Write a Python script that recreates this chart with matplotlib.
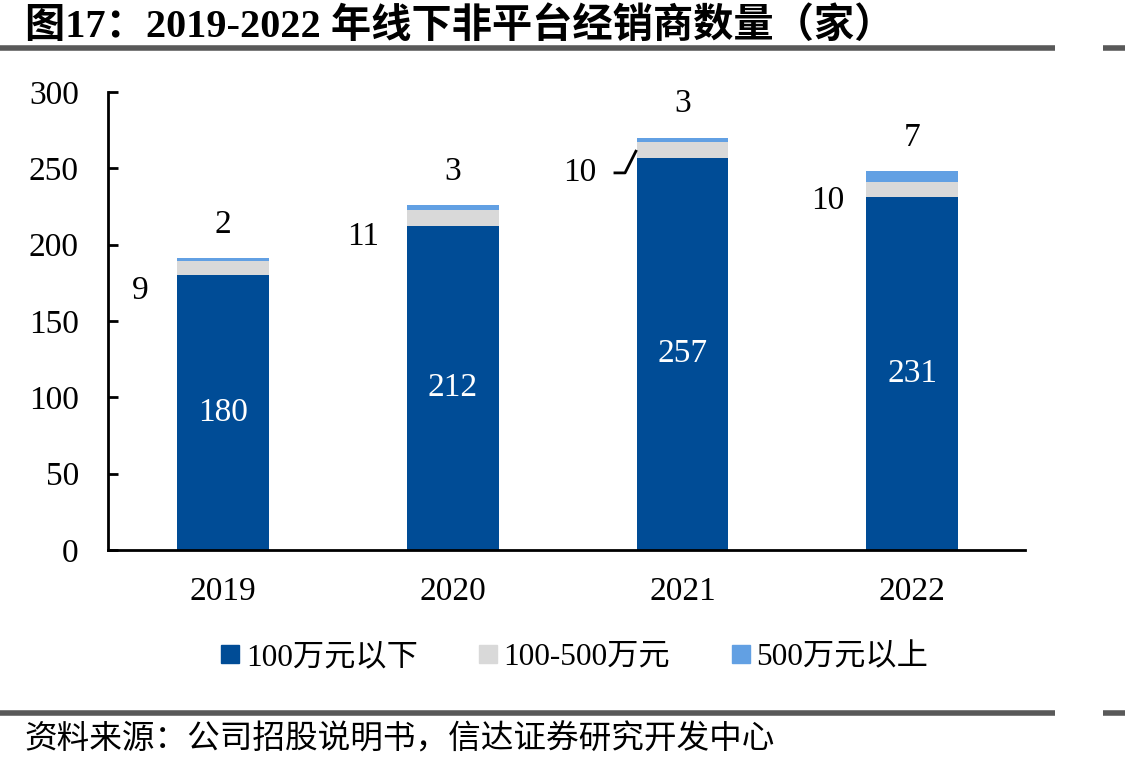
import matplotlib.pyplot as plt
from matplotlib.lines import Line2D
import numpy as np

plt.rcParams["font.family"] = ["Liberation Serif", "Noto Sans CJK SC"]

years = ["2019", "2020", "2021", "2022"]
below_100 = [180, 212, 257, 231]
mid_100_500 = [9, 11, 10, 10]
above_500 = [2, 3, 3, 7]
series_names = ["100万元以下", "100-500万元", "500万元以上"]
colors = ["#004C96", "#D9D9D9", "#62A0E3"]

title = "图17：2019-2022 年线下非平台经销商数量（家）"
source = "资料来源：公司招股说明书，信达证券研究开发中心"

fig = plt.figure(figsize=(11.25, 7.69), dpi=100)
ax = fig.add_axes([0.096, 0.2848, 0.815, 0.5956])

x = np.arange(len(years))
w = 0.4
low = np.array(below_100)
mid = np.array(mid_100_500)
top = np.array(above_500)
ax.bar(x, low, w, color=colors[0])
ax.bar(x, mid, w, bottom=low, color=colors[1])
ax.bar(x, top, w, bottom=low + mid, color=colors[2])

fs = 24
for i in range(len(years)):
    ax.text(x[i], low[i] / 2, str(low[i]), color="white", fontsize=fs,
            ha="center", va="center")
    total = low[i] + mid[i] + top[i]
    ax.text(x[i], total + 22, str(top[i]), fontsize=fs, ha="center", va="center")

# labels for the grey middle segment, placed left of each bar
mid_label_pos = [(-0.36, 170), (-0.39, 205), (-0.445, 247), (-0.37, 229)]
for i, (dx, yy) in enumerate(mid_label_pos):
    ax.text(x[i] + dx, yy, str(mid[i]), fontsize=fs, ha="center", va="center")

# leader line for 2021 grey segment
i = 2
ax.plot([x[i] - 0.30, x[i] - 0.25, x[i] - w / 2],
        [247, 247, low[i] + mid[i] / 2], color="black", lw=2,
        solid_capstyle="butt", clip_on=False)

ax.set_xlim(-0.5, 3.49)
ax.set_ylim(0, 300)
ax.set_yticks(range(0, 301, 50))
ax.set_xticks(x)
ax.set_xticklabels(years)
ax.tick_params(axis="y", direction="in", length=7, width=2, labelsize=fs, pad=21)
ax.tick_params(axis="x", length=0, labelsize=fs, pad=19)
for s in ["top", "right"]:
    ax.spines[s].set_visible(False)
for s in ["left", "bottom"]:
    ax.spines[s].set_linewidth(2)

handles = [Line2D([], [], marker="s", linestyle="none", markersize=13,
                  markerfacecolor=c, markeredgecolor=c) for c in colors]
fig.legend(handles, series_names, loc="center", bbox_to_anchor=(0.51, 0.145),
           ncol=3, frameon=False, fontsize=22.5, handletextpad=0.15,
           columnspacing=1.9, handlelength=0.7)

fig.text(0.022, 0.965, title, fontsize=29, fontweight="bold", va="center",
         family=["Liberation Serif", "Noto Sans CJK SC"])
fig.text(0.022, 0.038, source, fontsize=23.5, va="center",
         family=["Noto Sans CJK SC"])

line_kw = dict(color="#595959", lw=4, solid_capstyle="butt")
for yy in (0.937, 0.073):
    fig.add_artist(Line2D([0, 0.938], [yy, yy], **line_kw))
    fig.add_artist(Line2D([0.98, 1.0], [yy, yy], **line_kw))

fig.savefig("out.png", dpi=100)
